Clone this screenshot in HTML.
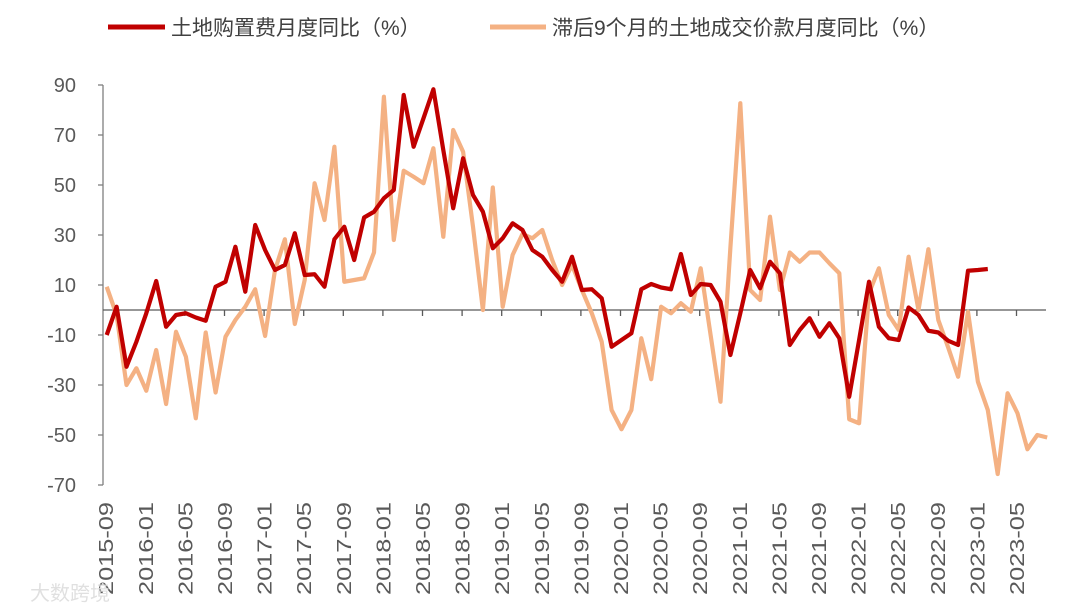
<!DOCTYPE html>
<html><head><meta charset="utf-8"><style>
body{margin:0;background:#fff;}
svg{display:block;font-family:"Liberation Sans","Noto Sans CJK SC",sans-serif;}
</style></head><body>
<svg id="chart" width="1080" height="612" viewBox="0 0 1080 612" xmlns="http://www.w3.org/2000/svg">
<g>
 <line x1="108" y1="27" x2="165" y2="27" stroke="#C00000" stroke-width="5"/>
 <text x="171" y="35" font-size="21" fill="#404040">土地购置费月度同比（%）</text>
 <line x1="490" y1="27" x2="546" y2="27" stroke="#F4B183" stroke-width="5"/>
 <text x="552" y="35" font-size="21" fill="#404040">滞后9个月的土地成交价款月度同比（%）</text>
</g>
<g id="axes"></g>
<g id="series"></g>
<text x="30" y="600" font-size="20" fill="#e0e0e0">大数跨境</text>
</svg>
<script>
const yTicks=[90,70,50,30,10,-10,-30,-50,-70];
const startYear=2015, startMonth=9;
const landPurchase=[-10,1.3,-22.7,-12.7,-1.3,11.6,-6.7,-2,-1.3,-3,-4.3,9.3,11.3,25.3,7.3,34,24,16,18,30.7,14,14.3,9.3,28.3,33.3,20,37,39.3,44.7,48,86,65.3,76.7,88.3,64,40.7,60.7,46,39.3,24.7,28.7,34.7,32,24,21.3,16,11.3,21.3,8,8.3,4.7,-14.7,-12,-9.3,8.3,10.4,9,8.3,22.4,6,10.4,10,3.3,-18,-1.3,16,8.7,19.3,14.7,-14,-8,-3.3,-10.7,-5.3,-11.3,-34.7,-12,11.3,-6.7,-11.3,-12,1,-2,-8.3,-9,-12.3,-14,15.7,16,16.4];
const landTransactionLag9=[9.3,-2,-30,-23.3,-32.3,-16,-37.6,-8.7,-18.7,-43.3,-9,-33,-10.7,-4,1.3,8.3,-10.4,16,28.3,-5.6,12,50.7,36,65.3,11.3,12,12.7,23,85.3,28,55.7,53.3,50.7,64.7,29.3,72,63.3,33.3,0,49,1.3,22,30.4,28.7,32,20,10,18,8,-1.3,-12.7,-40,-47.7,-40,-11.3,-27.7,1.3,-1.3,2.7,-0.7,16.7,-10,-36.7,25,82.7,8,4,37.3,8,23,19.3,23,23,18.7,14.7,-43.7,-45.3,6.7,16.7,-2,-8,21.3,0,24.3,-4,-15,-26.7,-0.7,-28.7,-40,-65.6,-33.3,-41.3,-55.7,-50,-51];
const NS="http://www.w3.org/2000/svg";
const nCat=96;
const x=i=>106.7+9.9*i;
const y=v=>310-2.5*v;
const ax=document.getElementById('axes'), se=document.getElementById('series');
function mk(tag,attrs,parent){const e=document.createElementNS(NS,tag);for(const k in attrs)e.setAttribute(k,attrs[k]);parent.appendChild(e);return e;}
let yl=mk('line',{x1:103,y1:y(90),x2:103,y2:y(-70),stroke:'#7f7f7f','stroke-width':1.3},ax);


yTicks.forEach(v=>{
 const t=mk('line',{x1:98,y1:y(v),x2:103,y2:y(v),stroke:'#7f7f7f','stroke-width':1.3},ax);
 
 
 const l=mk('text',{x:76,y:y(v)+7,'text-anchor':'end','font-size':20,fill:'#595959'},ax);
 l.textContent=v;
 
 
});
let xl=mk('line',{x1:103,y1:y(0),x2:1046,y2:y(0),stroke:'#595959','stroke-width':1.3},ax);


for(let i=0;i<nCat;i+=4){
 const m=startMonth-1+i, yr=startYear+Math.floor(m/12), mo=m%12+1;
 const lab=yr+'-'+(mo<10?'0':'')+mo;
 if(i>0){const t=mk('line',{x1:x(i)-1,y1:y(0),x2:x(i)-1,y2:y(0)+6,stroke:'#595959','stroke-width':1.3},ax);
 
 }
 const l=mk('text',{x:0,y:0,transform:'translate('+(x(i)+6.5)+',502) rotate(-90)','text-anchor':'end','font-size':20,fill:'#595959',textLength:93,lengthAdjust:'spacingAndGlyphs'},ax);
 l.textContent=lab;
 
 
}
function line(data,color,name){
 const p=mk('polyline',{points:data.map((v,i)=>x(i)+','+y(v)).join(' '),fill:'none',stroke:color,'stroke-width':4.2,'stroke-linejoin':'round'},se);
 
 
}
line(landTransactionLag9,'#F4B183','series-land-transaction-lag9');
line(landPurchase,'#C00000','series-land-purchase');
</script>
</body></html>
